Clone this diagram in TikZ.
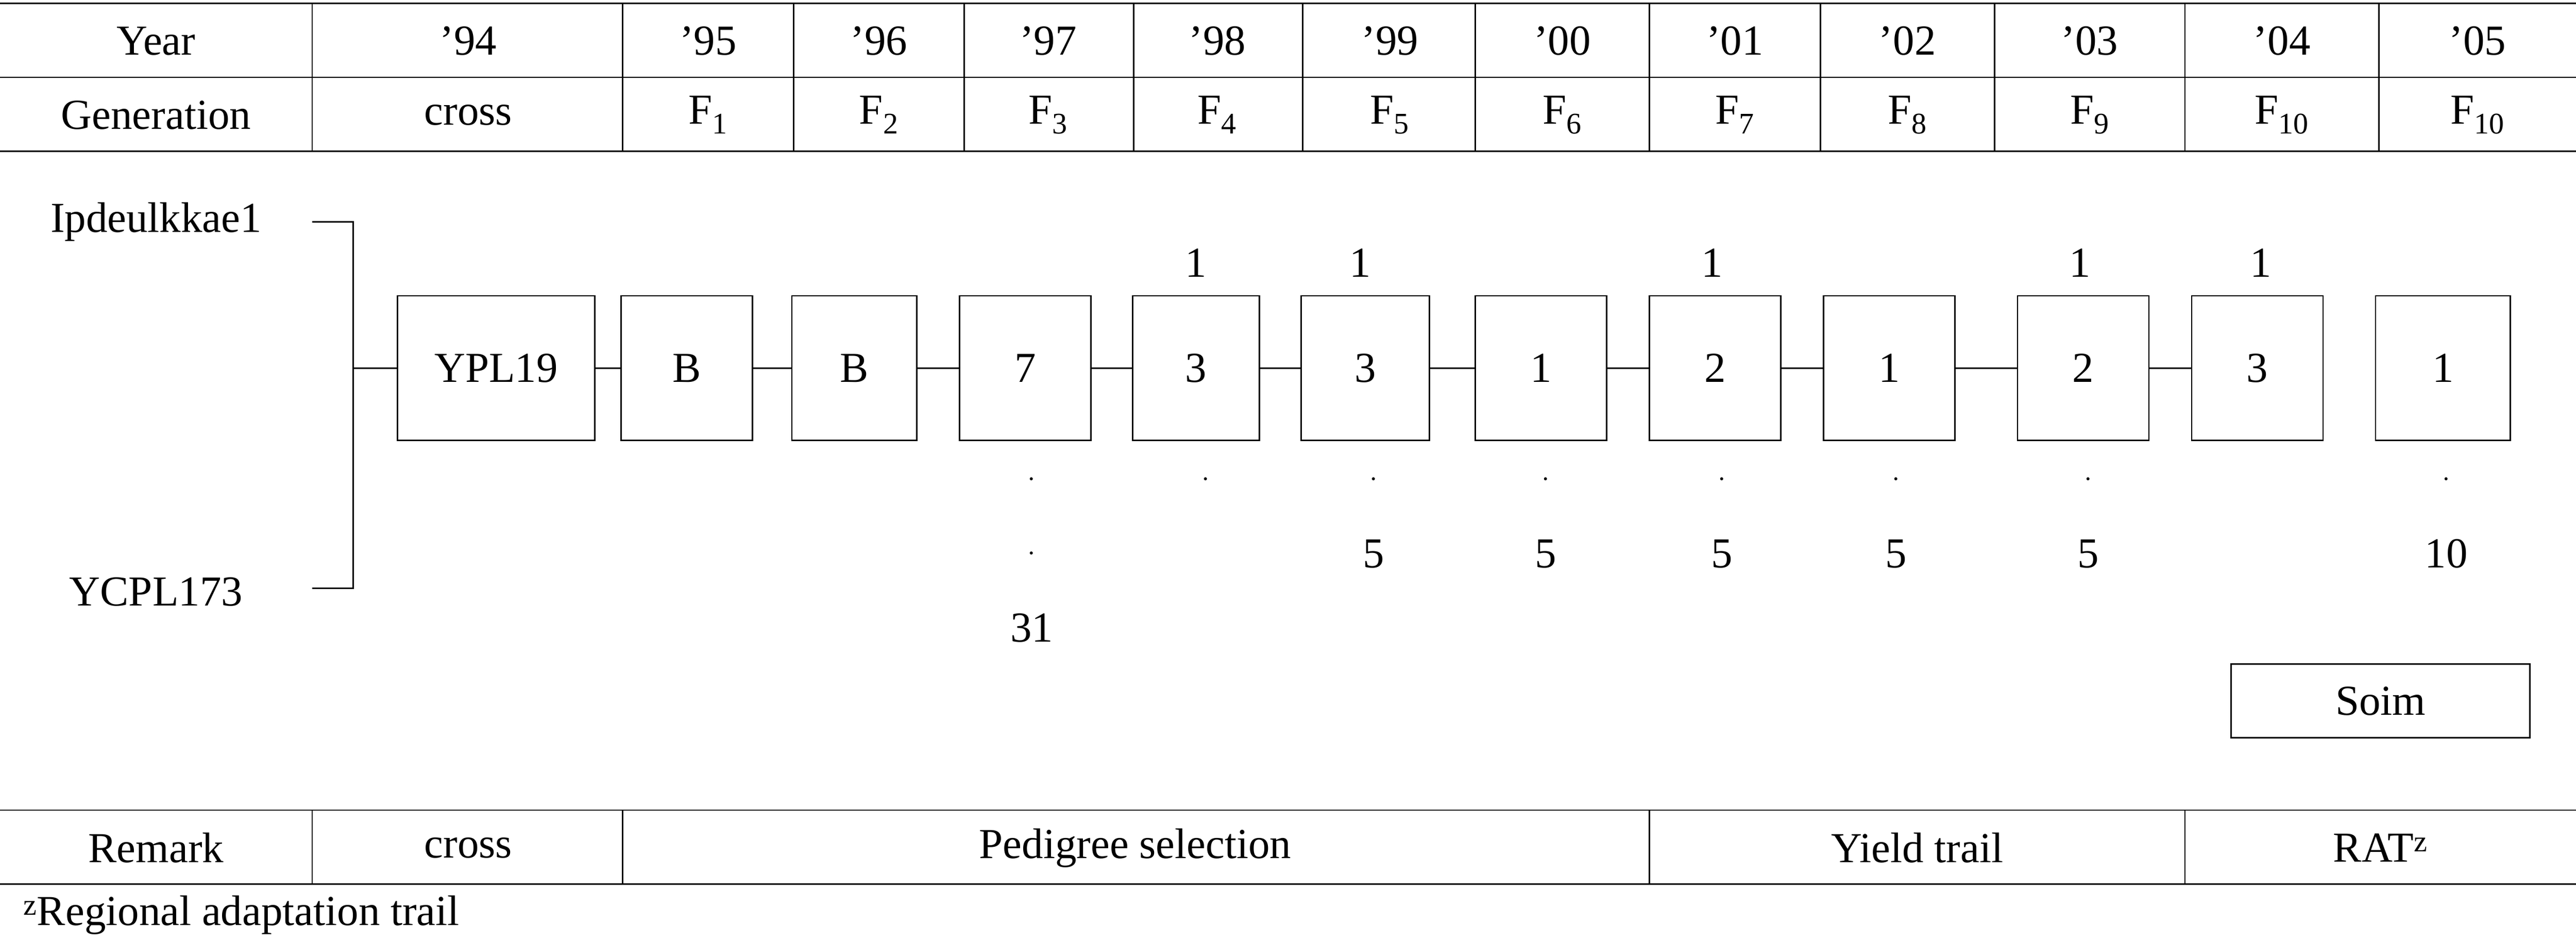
\documentclass[tikz,border=0pt]{standalone}
\usepackage{fontspec}
\setmainfont{Liberation Serif}
\begin{document}
\begin{tikzpicture}[x=0.05cm,y=-0.05cm,
  txt/.style={font=\fontsize{37}{44}\selectfont,inner sep=0pt},
  bx/.style={draw,line width=1.2pt,minimum width=4cm,minimum height=4.4cm,font=\fontsize{37}{44}\selectfont},
  ln/.style={line width=1.2pt}]
\useasboundingbox (0,0) rectangle (1568,572);
% table lines
\foreach \y in {2,47,92,493,538} \draw[ln] (0,\y) -- (1568,\y);
\foreach \x in {190,379,483,587,690,793,898,1004,1108,1214,1330,1448} \draw[ln] (\x,2) -- (\x,92);
\foreach \x in {190,379,1004,1330} \draw[ln] (\x,493) -- (\x,538);
% header texts
\foreach \x/\t in {95/Year,285/’94,431/’95,535/’96,638/’97,741/’98,846/’99,951/’00,1056/’01,1161/’02,1272/’03,1389/’04,1508/’05}
  \node[txt] at (\x,25) {\t};
\foreach \x/\t in {95/Generation,285/cross,431/F\textsubscript{1},535/F\textsubscript{2},638/F\textsubscript{3},741/F\textsubscript{4},846/F\textsubscript{5},951/F\textsubscript{6},1056/F\textsubscript{7},1161/F\textsubscript{8},1272/F\textsubscript{9},1389/F\textsubscript{10},1508/F\textsubscript{10}}
  \node[txt] at (\x,70) {\t};
% remark row
\node[txt] at (95,516) {Remark};
\node[txt] at (285,516) {cross};
\node[txt] at (691,516) {Pedigree selection};
\node[txt] at (1167,516) {Yield trail};
\node[txt] at (1449,516) {RAT\textsuperscript{z}};
\node[txt,anchor=west] at (14,557) {\textsuperscript{z}Regional adaptation trail};
% parents
\node[txt] (p1) at (95,135) {Ipdeulkkae1};
\node[txt] (p2) at (95,360) {YCPL173};
\coordinate (c1) at (190,135); \coordinate (c2) at (215,135);
\coordinate (c3) at (215,358); \coordinate (c4) at (190,358);
\coordinate (c5) at (215,224);
\draw[ln] (c1) -- (c2) -- (c3) -- (c4);
% boxes
\node[bx,minimum width=6cm] (b1) at (302,224) {YPL19};
\node[bx] (b2) at (418,224) {B};
\node[bx,minimum width=3.8cm] (b3) at (520,224) {B};
\node[bx] (b4) at (624,224) {7};
\node[bx,minimum width=3.85cm] (b5) at (728,224) {3};
\node[bx,minimum width=3.9cm] (b6) at (831,224) {3};
\node[bx] (b7) at (938,224) {1};
\node[bx] (b8) at (1044,224) {2};
\node[bx] (b9) at (1150,224) {1};
\node[bx] (b10) at (1268,224) {2};
\node[bx] (b11) at (1374,224) {3};
\node[bx,minimum width=4.1cm] (b12) at (1487,224) {1};
\draw[ln] (c5) -- (b1);
\foreach \a/\b in {b1/b2,b2/b3,b3/b4,b4/b5,b5/b6,b6/b7,b7/b8,b8/b9,b9/b10,b10/b11} \draw[ln] (\a) -- (\b);
% numbers above
\foreach \x in {728,828,1042,1266,1376} \node[txt] at (\x,160) {1};
% dots and numbers below
\foreach \x in {628,734,836,941,1048,1154,1271,1489} \node[txt] at (\x,292) {$\cdot$};
\node[txt] at (628,337) {$\cdot$};
\foreach \x in {836,941,1048,1154,1271} \node[txt] at (\x,337) {5};
\node[txt] at (1489,337) {10};
\node[txt] at (628,382) {31};
\node[bx,minimum width=9.1cm,minimum height=2.25cm] (soim) at (1449,426.5) {Soim};
\end{tikzpicture}
\end{document}
